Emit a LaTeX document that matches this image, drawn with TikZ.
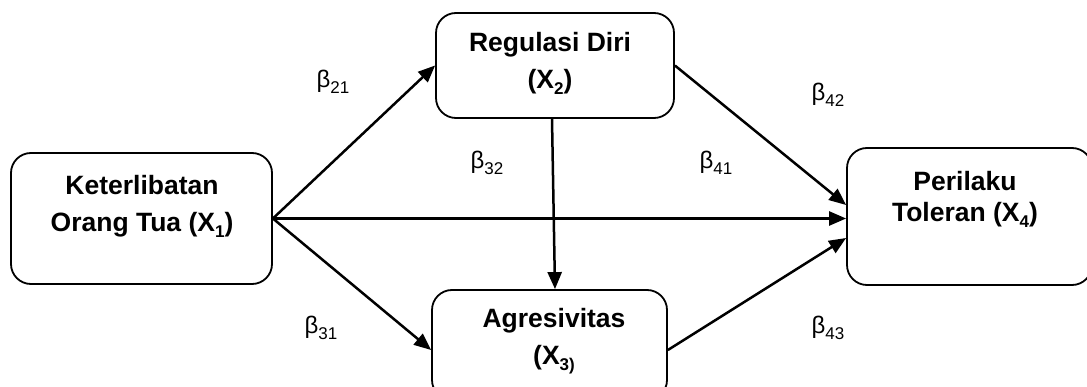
\documentclass[tikz,border=0pt]{standalone}
\usepackage{fontspec}
\setmainfont{Liberation Sans}
\usetikzlibrary{arrows.meta}
\newcommand\sbx[1]{\raisebox{-0.22em}{\fontsize{17}{17}\selectfont #1}}
\newcommand\sbb[1]{\raisebox{-0.25em}{\fontsize{17}{17}\selectfont #1}}
\tikzset{
  box/.style={draw, line width=1.8pt, rounded corners=20pt, inner sep=0pt},
  boxtext/.style={font=\fontsize{26.5}{37}\selectfont\bfseries, align=center, anchor=north, inner sep=0pt},
  beta/.style={font=\fontsize{24}{24}\selectfont, inner sep=0pt},
  arr/.style={line width=2.5pt, -{Triangle[length=17pt,width=14pt]}}
}
\begin{document}
\begin{tikzpicture}[x=1pt,y=-1pt]
\useasboundingbox (0,0) rectangle (1087,387);
\clip (0,0) rectangle (1087,387);
\node[box, minimum width=261pt, minimum height=131pt] (X1) at (141.5,218.5) {};
\node[box, minimum width=238pt, minimum height=105pt] (X2) at (555,65.5) {};
\node[box, minimum width=235pt, minimum height=110pt] (X3) at (549.5,345) {};
\node[box, minimum width=245pt, minimum height=137pt] (X4) at (969.5,216.5) {};
\node[boxtext] (t1) at (142,175) {Keterlibatan\\Orang Tua (X\sbx{1})};
\node[boxtext] (t2) at (550,32) {Regulasi Diri\\(X\sbx{2})};
\node[boxtext] (t3) at (554,308) {Agresivitas\\(X\sbx{3)}};
\node[boxtext, font=\fontsize{26.5}{31}\selectfont\bfseries] (t4) at (965,171) {Perilaku\\Toleran (X\sbx{4})};
\draw[arr] (X1.east) -- (X2.west);
\draw[arr] (X1.east) -- (X1.east -| X4.west);
\draw[arr] (X1.east) -- ([yshift=-5pt]X3.west);
\draw[arr] ([xshift=-3pt]X2.south) -- ([xshift=5.5pt]X3.north);
\draw[arr] (X2.east) -- ([yshift=11.5pt]X4.west);
\draw[arr] ([yshift=-5pt]X3.east) -- ([yshift=-21.5pt]X4.west);
\node[beta] (b21) at (333,82) {β\sbb{21}};
\node[beta] (b32) at (487,163) {β\sbb{32}};
\node[beta] (b41) at (716,163) {β\sbb{41}};
\node[beta] (b42) at (828,95) {β\sbb{42}};
\node[beta] (b31) at (321,328) {β\sbb{31}};
\node[beta] (b43) at (828,328) {β\sbb{43}};
\end{tikzpicture}
\end{document}
